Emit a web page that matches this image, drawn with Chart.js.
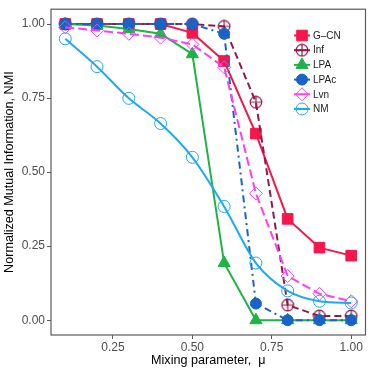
<!DOCTYPE html>
<html>
<head>
<meta charset="utf-8">
<script src="https://cdn.jsdelivr.net/npm/chart.js@4.4.1/dist/chart.umd.min.js"></script>
<style>
  html, body { margin: 0; padding: 0; background: #fff; }
  #wrap { width: 374px; height: 374px; }
</style>
</head>
<body>
<div id="wrap"><canvas id="nmiChart" width="374" height="374"></canvas></div>
<script>
// values
const mu = [0.1, 0.2, 0.3, 0.4, 0.5, 0.6, 0.7, 0.8, 0.9, 1.0];
const gcn = [1.00, 1.00, 1.00, 1.00, 0.970, 0.875, 0.630, 0.342, 0.245, 0.218];
const inf = [1.00, 1.00, 1.00, 1.00, 1.00, 0.992, 0.736, 0.051, 0.014, 0.014];
const lpa = [1.00, 0.995, 0.983, 0.967, 0.898, 0.193, 0.00, 0.00, 0.00, 0.00];
const lpac = [1.00, 1.00, 1.00, 1.00, 1.00, 0.967, 0.056, 0.00, 0.00, 0.00];
const lvn = [0.989, 0.978, 0.967, 0.954, 0.931, 0.854, 0.428, 0.149, 0.089, 0.064];
const nm = [0.950, 0.856, 0.749, 0.664, 0.550, 0.384, 0.193, 0.099, 0.064, 0.058];

const xTicks = [0.25, 0.50, 0.75, 1.00];
const yTicks = [0.00, 0.25, 0.50, 0.75, 1.00];

const toPoints = (vals) => vals.map((v, i) => ({ x: mu[i], y: v }));

// circle with a cross for "Inf"
function crossCircle(color) {
  const c = document.createElement('canvas');
  c.width = 14; c.height = 14;
  const g = c.getContext('2d');
  g.strokeStyle = color;
  g.lineWidth = 1.2;
  g.beginPath();
  g.arc(7, 7, 5.8, 0, Math.PI * 2);
  g.moveTo(1.2, 7); g.lineTo(12.8, 7);
  g.moveTo(7, 1.2); g.lineTo(7, 12.8);
  g.stroke();
  return c;
}

const infMarker = crossCircle('#8E1B48');

const series = [
  { label: 'G\u2013CN', data: toPoints(gcn), borderColor: '#F5174B', backgroundColor: '#F5174B',
    pointStyle: 'rect', pointRadius: 7.5, borderDash: [], order: 6 },
  { label: 'Inf', data: toPoints(inf), borderColor: '#8E1B48', backgroundColor: 'transparent',
    pointStyle: infMarker, pointRadius: 7, borderDash: [7, 4], order: 5 },
  { label: 'LPA', data: toPoints(lpa), borderColor: '#1DB345', backgroundColor: '#1DB345',
    pointStyle: 'triangle', pointRadius: 7, borderDash: [], order: 4 },
  { label: 'LPAc', data: toPoints(lpac), borderColor: '#1764C6', backgroundColor: '#1764C6',
    pointStyle: 'circle', pointRadius: 5.5, borderDash: [7, 4, 2, 4], order: 3 },
  { label: 'Lvn', data: toPoints(lvn), borderColor: '#FF3DF5', backgroundColor: 'transparent',
    pointStyle: 'rectRot', pointRadius: 6.5, borderDash: [9, 4], order: 2 },
  { label: 'NM', data: toPoints(nm), borderColor: '#1FA9F2', backgroundColor: 'transparent',
    pointStyle: 'circle', pointRadius: 6, borderDash: [], order: 1, cubicInterpolationMode: 'monotone' }
];

const datasets = series.map(s => Object.assign({
  borderWidth: 2,
  pointBorderColor: s.borderColor,
  pointBackgroundColor: s.backgroundColor,
  pointBorderWidth: 1,
  pointHoverRadius: s.pointRadius,
  fill: false,
  tension: 0
}, s));

// panel border + legend drawn inside the panel (ggplot style)
const panelAndLegend = {
  id: 'panelAndLegend',
  afterDraw(chart) {
    const { ctx, chartArea: a } = chart;
    ctx.save();
    ctx.strokeStyle = '#5a5a5a';
    ctx.lineWidth = 1.2;
    ctx.strokeRect(a.left, a.top, a.right - a.left, a.bottom - a.top);

    const x0 = 302, y0 = 35.5, step = 14.7;
    ctx.font = '10px "Liberation Sans", Arial, sans-serif';
    ctx.textBaseline = 'middle';
    ctx.textAlign = 'left';
    chart.data.datasets.forEach((ds, i) => {
      const y = y0 + i * step;
      ctx.setLineDash([]);
      ctx.strokeStyle = ds.borderColor;
      ctx.lineWidth = 2;
      ctx.beginPath();
      ctx.moveTo(x0 - 8, y);
      ctx.lineTo(x0 + 8, y);
      ctx.stroke();
      ctx.fillStyle = ds.pointBackgroundColor;
      ctx.strokeStyle = ds.pointBorderColor;
      ctx.lineWidth = 1;
      Chart.helpers.drawPoint(ctx, { pointStyle: ds.pointStyle, radius: ds.pointRadius, borderWidth: 1, rotation: 0 }, x0, y);
      ctx.fillStyle = '#222';
      ctx.fillText(ds.label, x0 + 11, y + 0.5);
    });
    ctx.restore();
  }
};

const ctx = document.getElementById('nmiChart').getContext('2d');
new Chart(ctx, {
  type: 'line',
  data: { datasets: datasets },
  plugins: [panelAndLegend],
  options: {
    responsive: false,
    animation: false,
    layout: { padding: { top: 5, right: 5, left: 0, bottom: 0 } },
    plugins: { legend: { display: false }, tooltip: { enabled: false } },
    scales: {
      x: {
        type: 'linear',
        min: 0.055,
        max: 1.045,
        afterBuildTicks: (scale) => { scale.ticks = xTicks.map(v => ({ value: v })); },
        afterFit: (scale) => { scale.height = 39; },
        ticks: {
          callback: (v) => v.toFixed(2),
          color: '#4D4D4D',
          font: { family: '"Liberation Sans", Arial, sans-serif', size: 12 },
          padding: 1,
          maxRotation: 0
        },
        grid: { drawOnChartArea: false, drawTicks: true, tickLength: 4, color: '#5a5a5a', tickWidth: 1 },
        border: { display: false },
        title: {
          display: true,
          text: 'Mixing parameter,  \u03bc',
          color: '#000',
          font: { family: '"Liberation Sans", Arial, sans-serif', size: 12.6 },
          padding: { top: 0, bottom: 6 }
        }
      },
      y: {
        min: -0.05,
        max: 1.05,
        afterBuildTicks: (scale) => { scale.ticks = yTicks.map(v => ({ value: v })); },
        afterFit: (scale) => { scale.width = 51; },
        ticks: {
          callback: (v) => v.toFixed(2),
          color: '#4D4D4D',
          font: { family: '"Liberation Sans", Arial, sans-serif', size: 12 },
          padding: 2
        },
        grid: { drawOnChartArea: false, drawTicks: true, tickLength: 4, color: '#5a5a5a', tickWidth: 1 },
        border: { display: false },
        title: {
          display: true,
          text: 'Normalized Mutual Information, NMI',
          color: '#000',
          font: { family: '"Liberation Sans", Arial, sans-serif', size: 12.6 },
          padding: { top: 2, bottom: 0 }
        }
      }
    }
  }
});
</script>
</body>
</html>
